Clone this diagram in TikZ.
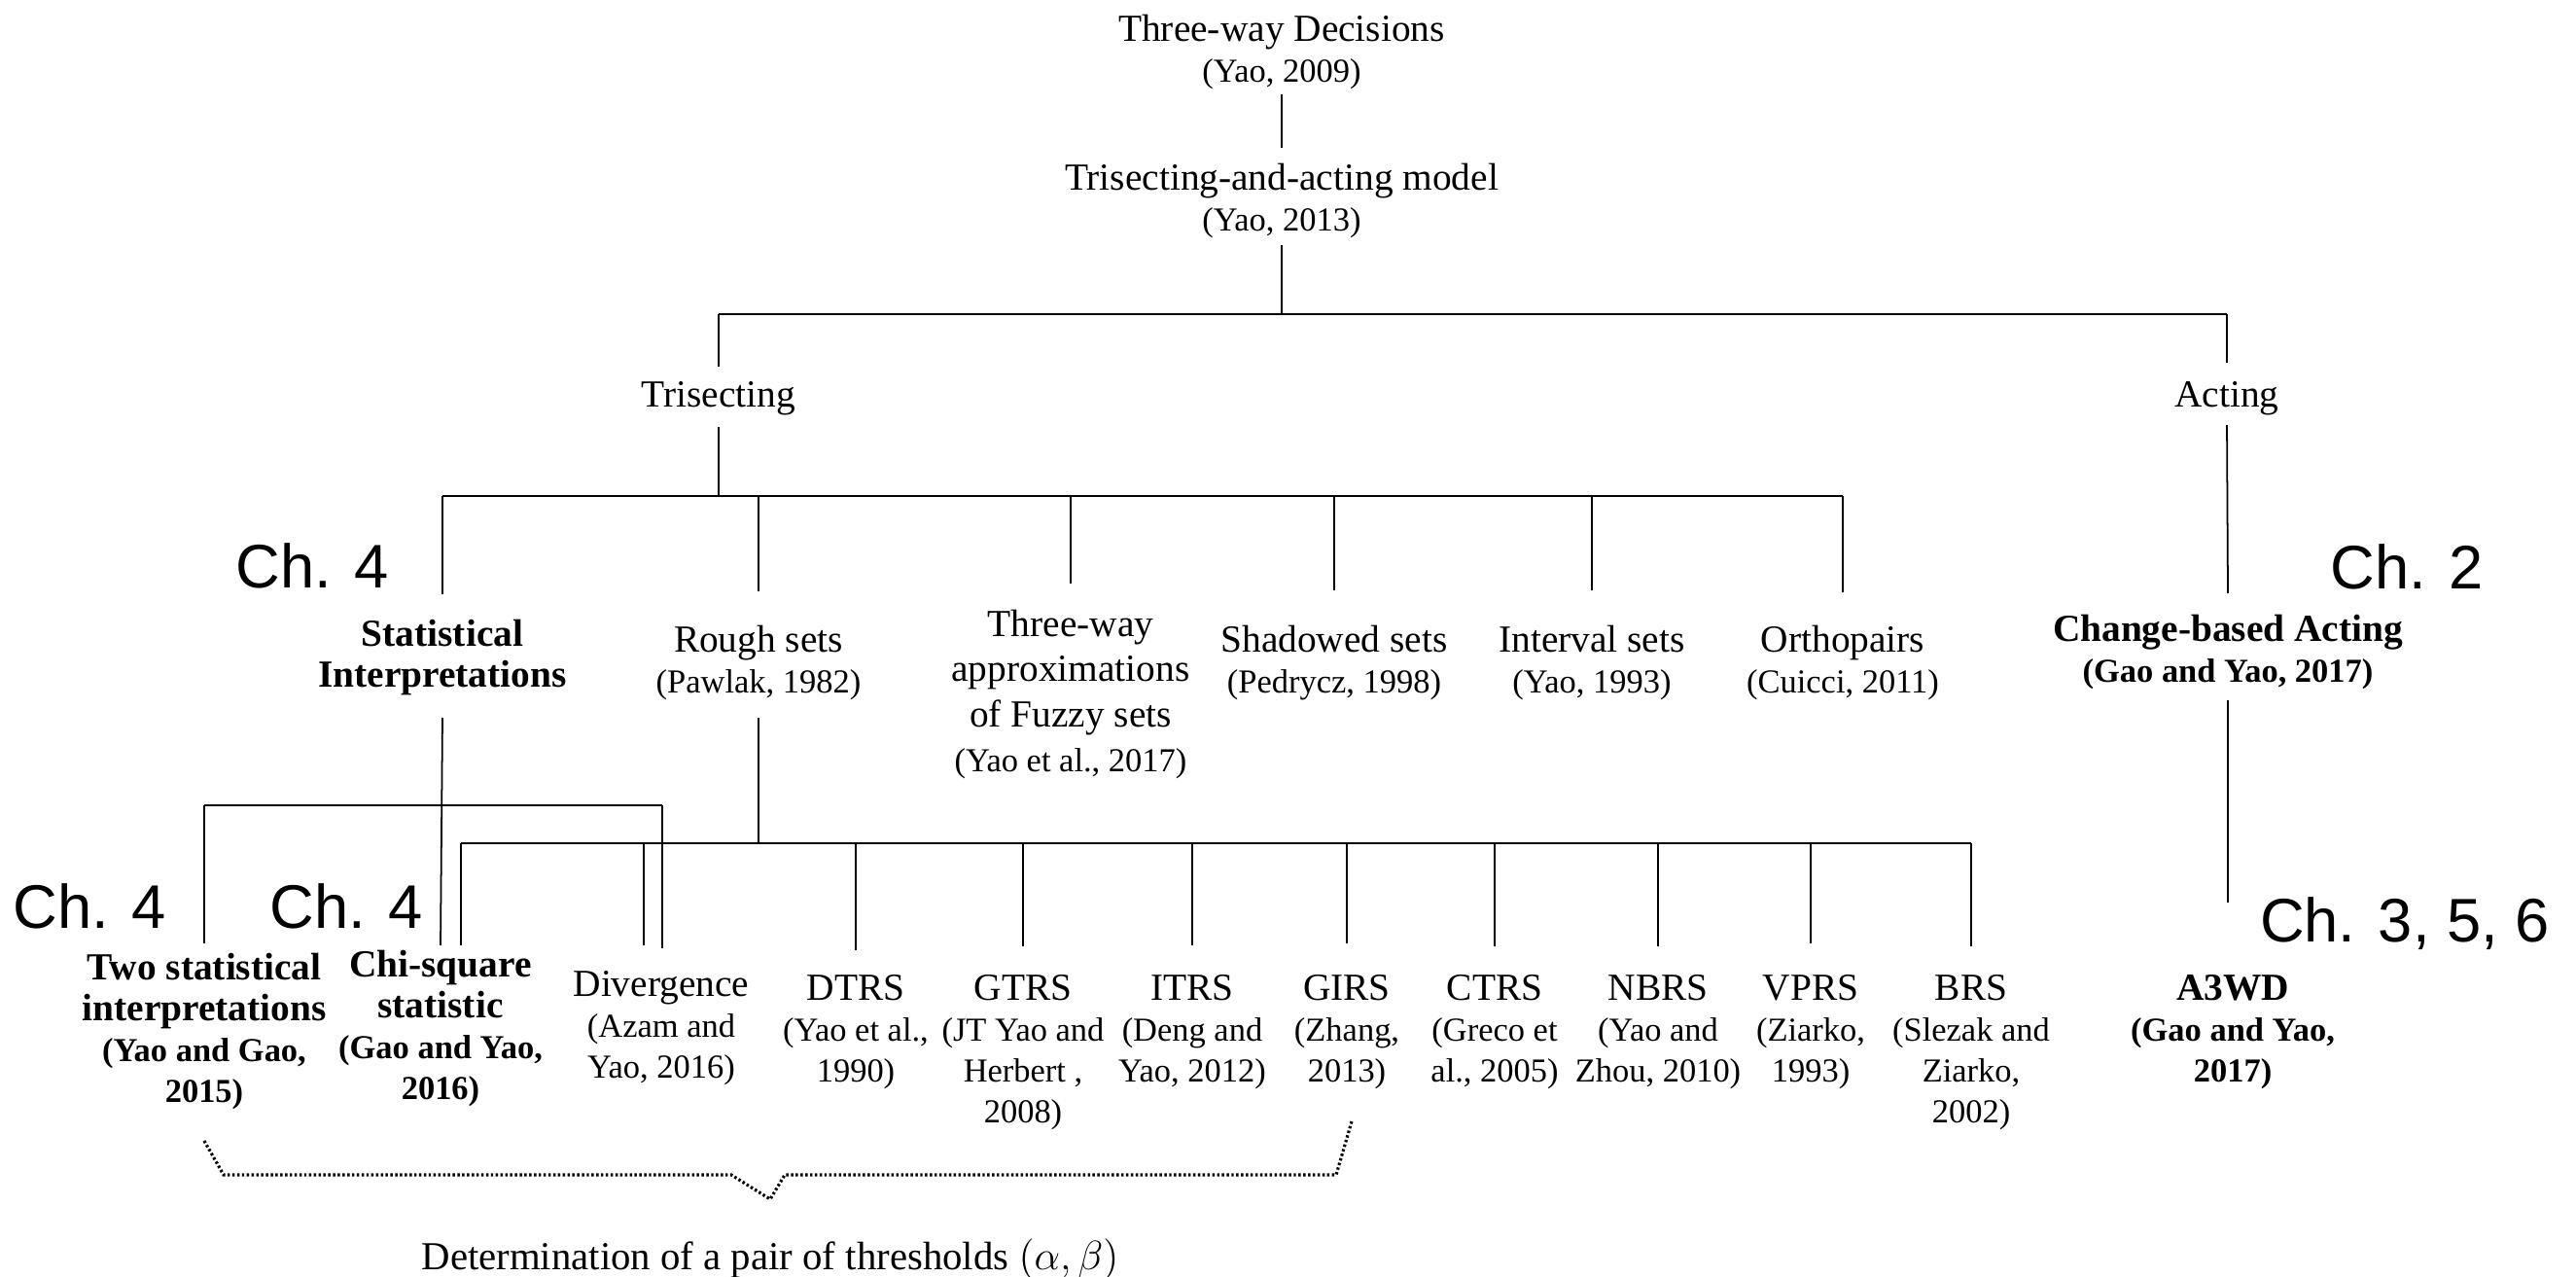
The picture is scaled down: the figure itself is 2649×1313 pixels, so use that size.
\documentclass[tikz,border=0pt]{standalone}
\usepackage{fontspec}
\setmainfont{Liberation Serif}
\newfontfamily\chfont{Liberation Sans}
\usetikzlibrary{calc}

% citation lines are set a little smaller than the titles
\newcommand{\ct}[1]{{\fontsize{9.8}{12}\selectfont #1}}

\begin{document}
\begin{tikzpicture}[x=0.01cm,y=-0.01cm,
  every node/.style={inner sep=0pt, outer sep=0pt},
  lbl/.style={align=center, anchor=north, font=\fontsize{11.2}{12}\selectfont},
  blbl/.style={align=center, anchor=north, font=\fontsize{11.2}{12}\selectfont\bfseries},
  chap/.style={font=\chfont\fontsize{18}{20}\selectfont},
  stem/.style={line width=0.5pt},
  bar/.style={line width=0.85pt},
  brace/.style={line width=0.9pt, dash pattern=on 0.7pt off 0.7pt}
]
\useasboundingbox (0,0) rectangle (2649,1313);

% ---------- top of the hierarchy ----------
\node[lbl] (twd) at (1318,15) {Three-way Decisions\\\ct{(Yao, 2009)}};
\node[lbl] (tam) at (1318,168) {Trisecting-and-acting model\\\ct{(Yao, 2013)}};
\node[lbl] (tri) at (739,392) {Trisecting};
\node[lbl] (act) at (2290,392) {Acting};

\draw[stem] (twd.south |- 0,97) -- (tam.north |- 0,152);
\coordinate (j1) at (1318,323);
\draw[stem] (tam.south |- 0,252) -- (j1);
\draw[bar] (tri.north |- j1) -- (act.north |- j1);
\draw[stem] (tri.north |- j1) -- (tri.north |- 0,377);
\draw[stem] (act.north |- j1) -- (act.north |- 0,373);

% ---------- trisecting branches ----------
\node[blbl] (stat) at (455,637) {Statistical\\Interpretations};
\node[lbl] (rough) at (780,643) {Rough sets\\\ct{(Pawlak, 1982)}};
\node[lbl, font=\fontsize{11.2}{13.2}\selectfont] (fuzzy) at (1101,627)
  {Three-way\\approximations\\of Fuzzy sets\\\ct{(Yao et al., 2017)}};
\node[lbl] (shadow) at (1372,643) {Shadowed sets\\\ct{(Pedrycz, 1998)}};
\node[lbl] (interval) at (1637,643) {Interval sets\\\ct{(Yao, 1993)}};
\node[lbl] (ortho) at (1895,643) {Orthopairs\\\ct{(Cuicci, 2011)}};

\coordinate (j2) at (739,510);
\draw[stem] (tri.south |- 0,439) -- (j2);
\draw[bar] (stat.north |- j2) -- (ortho.north |- j2);
\draw[stem] (stat.north |- j2) -- (stat.north |- 0,611);
\draw[stem] (rough.north |- j2) -- (rough.north |- 0,608);
\draw[stem] (fuzzy.north |- j2) -- (fuzzy.north |- 0,600);
\draw[stem] (shadow.north |- j2) -- (shadow.north |- 0,607);
\draw[stem] (interval.north |- j2) -- (interval.north |- 0,607);
\draw[stem] (ortho.north |- j2) -- (ortho.north |- 0,609);

% ---------- acting branch ----------
\node[blbl] (cba) at (2291,632) {Change-based Acting\\\ct{(Gao and Yao, 2017)}};
\node[blbl] (a3wd) at (2296,1002) {A3WD\\\ct{(Gao and Yao,}\\\ct{2017)}};
\draw[stem] (act.south |- 0,437) -- (cba.north |- 0,610);
\draw[stem] (cba.south |- 0,720) -- (cba.south |- 0,928);

% ---------- chapter marks ----------
\node[chap] (ch4a) at (321,582) {Ch. 4};
\node[chap] (ch2) at (2475,583) {Ch. 2};
\node[chap] (ch4b) at (92,932) {Ch. 4};
\node[chap] (ch4c) at (356,932) {Ch. 4};
\node[chap] (ch356) at (2473,950) {Ch. 3, 5, 6};

% ---------- methods for the thresholds ----------
\node[blbl] (two) at (210,980) {Two statistical\\interpretations\\\ct{(Yao and Gao,}\\\ct{2015)}};
\node[blbl] (chi) at (453,977) {Chi-square\\statistic\\\ct{(Gao and Yao,}\\\ct{2016)}};
\node[lbl] (div) at (680,998) {Divergence\\\ct{(Azam and}\\\ct{Yao, 2016)}};
\node[lbl] (dtrs) at (880,1002) {DTRS\\\ct{(Yao et al.,}\\\ct{1990)}};
\node[lbl] (gtrs) at (1052,1002) {GTRS\\\ct{(JT Yao and}\\\ct{Herbert ,}\\\ct{2008)}};
\node[lbl] (itrs) at (1226,1002) {ITRS\\\ct{(Deng and}\\\ct{Yao, 2012)}};
\node[lbl] (girs) at (1385,1002) {GIRS\\\ct{(Zhang,}\\\ct{2013)}};
\node[lbl] (ctrs) at (1537,1002) {CTRS\\\ct{(Greco et}\\\ct{al., 2005)}};
\node[lbl] (nbrs) at (1705,1002) {NBRS\\\ct{(Yao and}\\\ct{Zhou, 2010)}};
\node[lbl] (vprs) at (1862,1002) {VPRS\\\ct{(Ziarko,}\\\ct{1993)}};
\node[lbl] (brs) at (2027,1002) {BRS\\\ct{(Slezak and}\\\ct{Ziarko,}\\\ct{2002)}};

% statistical interpretations
\coordinate (j3) at (455,828);
\draw[stem] (stat.south |- 0,738) -- (chi.north |- 0,972);
\draw[bar] (two.north |- j3) -- (681,828) coordinate (j3r);
\draw[stem] (two.north |- j3) -- (two.north |- 0,970);
\draw[stem] (j3r) -- (j3r |- 0,975);

% rough set models
\coordinate (j4) at (780,867);
\draw[stem] (rough.south |- 0,738) -- (j4);
\draw[bar] (474,867) coordinate (j4l) -- (brs.north |- j4);
\draw[stem] (j4l) -- (j4l |- 0,972);
\draw[stem] (662,867) coordinate (j4d) -- (j4d |- 0,972);
\foreach \n/\e in {dtrs/977,gtrs/973,itrs/972,girs/970,ctrs/973,nbrs/973,vprs/970,brs/973}
  \draw[stem] (\n.north |- j4) -- (\n.north |- 0,\e);

% ---------- thresholds bracket ----------
\node[lbl, font=\fontsize{11.6}{12}\selectfont] (thr) at (792,1274) {Determination of a pair of thresholds $(\alpha,\beta)$};
\draw[brace] (two.south |- 0,1173) coordinate (b1)
  -- (230,1208) -- (752,1208) -- (thr.north |- 0,1233) coordinate (b0)
  -- (807,1208) -- (1374,1208) -- (1390,1153) coordinate (b2);
\end{tikzpicture}
\end{document}
